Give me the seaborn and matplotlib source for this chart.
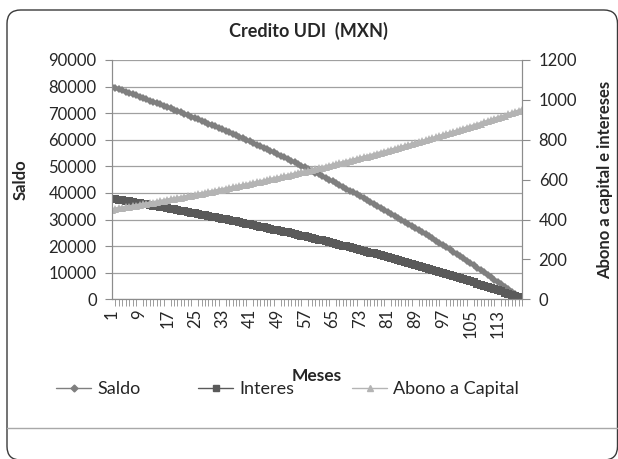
import matplotlib
matplotlib.use("Agg")
import matplotlib.pyplot as plt
from matplotlib.patches import FancyBboxPatch
from matplotlib.lines import Line2D
import numpy as np
import seaborn as sns

meses = list(range(1, 121))

saldo = [79899, 79446, 78990, 78531, 78070, 77606, 77139, 76669, 76196, 75720,
         75241, 74759, 74274, 73786, 73295, 72801, 72303, 71802, 71298, 70791,
         70281, 69768, 69251, 68731, 68208, 67681, 67151, 66618, 66081, 65541,
         64998, 64451, 63901, 63347, 62790, 62229, 61665, 61097, 60526, 59951,
         59372, 58790, 58204, 57614, 57021, 56424, 55823, 55218, 54610, 53998,
         53382, 52762, 52138, 51510, 50878, 50242, 49602, 48958, 48310, 47658,
         47002, 46342, 45678, 45009, 44336, 43659, 42978, 42292, 41602, 40908,
         40209, 39506, 38799, 38087, 37371, 36650, 35925, 35195, 34460, 33721,
         32977, 32228, 31475, 30717, 29954, 29186, 28414, 27637, 26855, 26068,
         25276, 24479, 23677, 22870, 22058, 21241, 20418, 19590, 18757, 17919,
         17076, 16227, 15373, 14513, 13648, 12778, 11902, 11021, 10134, 9241,
         8343, 7439, 6529, 5614, 4693, 3766, 2833, 1894, 950, 0]

interes = [505, 502, 499, 496, 494, 491, 488, 485, 482, 479,
           476, 473, 470, 467, 464, 461, 457, 454, 451, 448,
           445, 442, 438, 435, 432, 428, 425, 422, 418, 415,
           412, 408, 405, 401, 398, 394, 391, 387, 384, 380,
           376, 373, 369, 365, 362, 358, 354, 350, 347, 343,
           339, 335, 331, 327, 323, 319, 315, 311, 307, 303,
           299, 295, 291, 286, 282, 278, 274, 269, 265, 261,
           256, 252, 248, 243, 239, 234, 230, 225, 220, 216,
           211, 206, 202, 197, 192, 187, 183, 178, 173, 168,
           163, 158, 153, 148, 143, 138, 132, 127, 122, 117,
           112, 106, 101, 95, 90, 85, 79, 74, 68, 62,
           57, 51, 45, 40, 34, 28, 22, 16, 11, 5]

abono = [450, 453, 456, 459, 461, 464, 467, 470, 473, 476,
         479, 482, 485, 488, 491, 494, 498, 501, 504, 507,
         510, 513, 517, 520, 523, 527, 530, 533, 537, 540,
         543, 547, 550, 554, 557, 561, 564, 568, 571, 575,
         579, 582, 586, 590, 593, 597, 601, 605, 608, 612,
         616, 620, 624, 628, 632, 636, 640, 644, 648, 652,
         656, 660, 664, 669, 673, 677, 681, 686, 690, 694,
         699, 703, 707, 712, 716, 721, 725, 730, 735, 739,
         744, 749, 753, 758, 763, 768, 772, 777, 782, 787,
         792, 797, 802, 807, 812, 817, 823, 828, 833, 838,
         843, 849, 854, 860, 865, 870, 876, 881, 887, 893,
         898, 904, 910, 915, 921, 927, 933, 939, 944, 950]

xticks = list(range(1, 121, 8))

c_saldo = "#7f7f7f"
c_interes = "#5a5a5a"
c_abono = "#b4b4b4"
c_axis = "#8c8c8c"

sns.set_style("white")
plt.rcParams['font.family'] = ['Lato', 'DejaVu Sans']

fig = plt.figure(figsize=(6.18, 4.59), dpi=100)
ax = fig.add_axes([112 / 618, 1 - 299.3 / 459, 410 / 618, 239.3 / 459])
ax2 = ax.twinx()

sns.lineplot(x=meses, y=saldo, ax=ax, color=c_saldo, marker="D", markersize=4.5,
             markeredgewidth=0, linewidth=2.6)
sns.lineplot(x=meses, y=interes, ax=ax2, color=c_interes, marker="s", markersize=5.5,
             markeredgewidth=0, linewidth=2.6)
sns.lineplot(x=meses, y=abono, ax=ax2, color=c_abono, marker="^", markersize=5.5,
             markeredgewidth=0, linewidth=2.4)

ax.set_ylim(0, 90000)
ax2.set_ylim(0, 1200)
ax.set_xlim(1, 120)
ax.set_yticks(np.arange(0, 90001, 10000))
ax2.set_yticks(np.arange(0, 1201, 200))
ax.set_xticks(xticks)
ax.set_xticklabels([str(t) for t in xticks], rotation=90, fontsize=12)
ax.set_xticks(np.arange(1, 121, 1), minor=True)
ax.tick_params(axis="x", which="major", length=5, color=c_axis, pad=2)
ax.tick_params(axis="x", which="minor", length=5, color=c_axis, bottom=True)
ax.tick_params(axis="y", length=5, color=c_axis, labelsize=12, left=True, pad=6)
ax2.tick_params(axis="y", length=6, color=c_axis, labelsize=12, right=True, pad=6)

ax.grid(axis="y", color="#a0a0a0", linewidth=0.9)
ax.grid(axis="x", visible=False)
ax2.grid(False)
for a in (ax, ax2):
    a.spines["top"].set_visible(False)
    for side in ("left", "right", "bottom"):
        a.spines[side].set_visible(True)
        a.spines[side].set_color(c_axis)

fig.text(308 / 618, 1 - 31 / 459, "Credito UDI  (MXN)", fontsize=13, fontweight="bold",
         ha="center", va="center")
ax.set_ylabel("Saldo", fontsize=12, fontweight="bold")
ax.yaxis.set_label_coords(-(112 - 29) / 410, 0.5)
ax2.set_ylabel("Abono a capital e intereses", fontsize=12, fontweight="bold")
ax2.yaxis.set_label_coords(1 + (597 - 522) / 410, 0.5)
ax.set_xlabel("Meses", fontsize=12.5, fontweight="bold")
ax.xaxis.set_label_coords(0.5, -(368 - 299.3) / 239.3)

handles = [
    Line2D([], [], color=c_saldo, marker="D", markersize=3.5, linewidth=1),
    Line2D([], [], color=c_interes, marker="s", markersize=4, linewidth=1),
    Line2D([], [], color=c_abono, marker="^", markersize=4, linewidth=1),
]
fig.legend(handles, ["Saldo", "Interes", "Abono a Capital"], ncol=3, frameon=False,
           loc="center left", bbox_to_anchor=(56 / 618, 1 - 389 / 459), fontsize=13,
           columnspacing=3.2, handlelength=1.95, handletextpad=0.33, borderpad=0,
           borderaxespad=0)

border = FancyBboxPatch((7 / 618, -1 / 459), 610.5 / 618, 450 / 459,
                        boxstyle="round,pad=0,rounding_size=0.022",
                        transform=fig.transFigure, fill=False,
                        edgecolor="#3a3a3a", linewidth=1.0, clip_on=False,
                        mutation_aspect=618 / 459)
fig.add_artist(border)
fig.add_artist(Line2D([7 / 618, 1.0], [1 - 428 / 459, 1 - 428 / 459],
                      transform=fig.transFigure, color="#a8a8a8", linewidth=1.0))

fig.savefig("out.png", dpi=100)
